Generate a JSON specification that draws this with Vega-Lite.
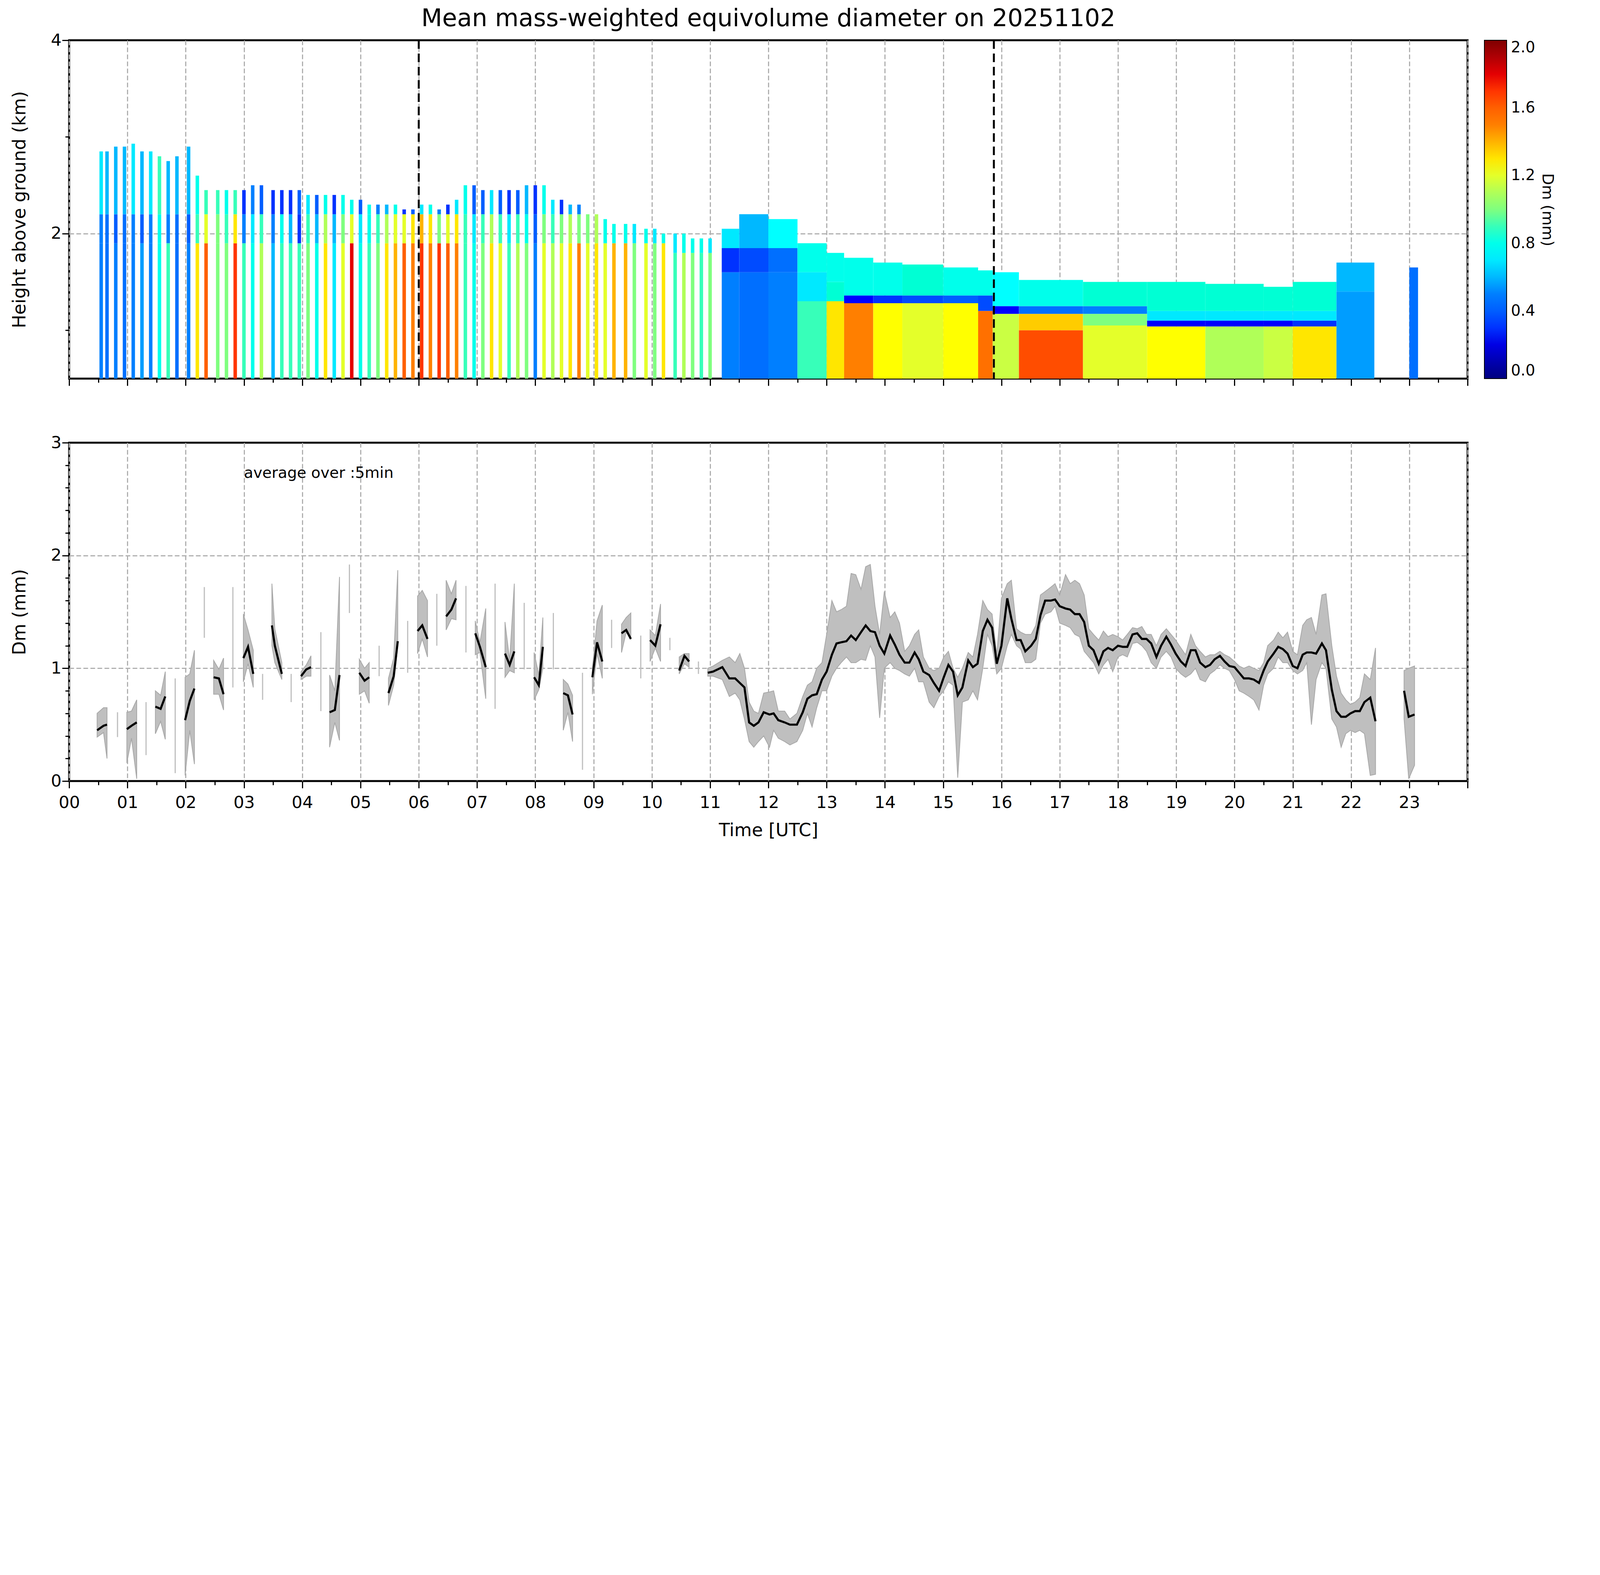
{
  "$schema": "https://vega.github.io/schema/vega-lite/v6.json",
  "padding": {"left": 25, "top": 16, "right": 11, "bottom": 11},
  "background": "white",
  "title": {"text": "Mean mass-weighted equivolume diameter on 20251102", "fontSize": 62, "font": "DejaVu Sans", "fontWeight": "normal", "anchor": "middle", "frame": "group", "offset": 0, "color": "black"},
  "config": {
    "font": "DejaVu Sans",
    "view": {"stroke": "black", "strokeWidth": 5},
    "axis": {"domain": false, "tickColor": "black", "tickWidth": 3, "labelFont": "DejaVu Sans", "labelFontSize": 43, "labelColor": "black", "titleFont": "DejaVu Sans", "titleFontSize": 46, "titleFontWeight": "normal", "titleColor": "black", "gridColor": "#b0b0b0", "gridDash": [12, 6], "gridWidth": 3, "zindex": 1},
    "legend": {"labelFont": "DejaVu Sans", "titleFont": "DejaVu Sans"}
  },
  "datasets": {
    "heat": [
      {"a":0.52,"b":0.58,"y0":0.5,"y1":1.9,"v":0.5},{"a":0.52,"b":0.58,"y0":1.9,"y1":2.2,"v":0.5},{"a":0.52,"b":0.58,"y0":2.2,"y1":2.85,"v":0.7},
      {"a":0.62,"b":0.68,"y0":0.5,"y1":1.9,"v":0.45},{"a":0.62,"b":0.68,"y0":1.9,"y1":2.2,"v":0.45},{"a":0.62,"b":0.68,"y0":2.2,"y1":2.85,"v":0.6},
      {"a":0.77,"b":0.83,"y0":0.5,"y1":1.9,"v":0.5},{"a":0.77,"b":0.83,"y0":1.9,"y1":2.2,"v":0.4},{"a":0.77,"b":0.83,"y0":2.2,"y1":2.9,"v":0.6},
      {"a":0.92,"b":0.98,"y0":0.5,"y1":1.9,"v":0.45},{"a":0.92,"b":0.98,"y0":1.9,"y1":2.2,"v":0.45},{"a":0.92,"b":0.98,"y0":2.2,"y1":2.9,"v":0.6},
      {"a":1.07,"b":1.13,"y0":0.5,"y1":1.9,"v":0.5},{"a":1.07,"b":1.13,"y0":1.9,"y1":2.2,"v":0.5},{"a":1.07,"b":1.13,"y0":2.2,"y1":2.93,"v":0.7},
      {"a":1.22,"b":1.28,"y0":0.5,"y1":1.9,"v":0.55},{"a":1.22,"b":1.28,"y0":1.9,"y1":2.2,"v":0.4},{"a":1.22,"b":1.28,"y0":2.2,"y1":2.85,"v":0.6},
      {"a":1.37,"b":1.43,"y0":0.5,"y1":1.9,"v":0.5},{"a":1.37,"b":1.43,"y0":1.9,"y1":2.2,"v":0.5},{"a":1.37,"b":1.43,"y0":2.2,"y1":2.85,"v":0.7},
      {"a":1.52,"b":1.58,"y0":0.5,"y1":1.9,"v":0.8},{"a":1.52,"b":1.58,"y0":1.9,"y1":2.2,"v":0.8},{"a":1.52,"b":1.58,"y0":2.2,"y1":2.8,"v":0.9},
      {"a":1.67,"b":1.73,"y0":0.5,"y1":1.9,"v":0.9},{"a":1.67,"b":1.73,"y0":1.9,"y1":2.2,"v":0.5},{"a":1.67,"b":1.73,"y0":2.2,"y1":2.75,"v":0.6},
      {"a":1.82,"b":1.88,"y0":0.5,"y1":1.9,"v":0.45},{"a":1.82,"b":1.88,"y0":1.9,"y1":2.2,"v":0.45},{"a":1.82,"b":1.88,"y0":2.2,"y1":2.8,"v":0.6},
      {"a":2.02,"b":2.08,"y0":0.5,"y1":1.9,"v":0.5},{"a":2.02,"b":2.08,"y0":1.9,"y1":2.2,"v":0.4},{"a":2.02,"b":2.08,"y0":2.2,"y1":2.9,"v":0.6},
      {"a":2.17,"b":2.23,"y0":0.5,"y1":1.9,"v":1.3},{"a":2.17,"b":2.23,"y0":1.9,"y1":2.2,"v":0.9},{"a":2.17,"b":2.23,"y0":2.2,"y1":2.6,"v":0.8},
      {"a":2.32,"b":2.38,"y0":0.5,"y1":1.9,"v":1.6},{"a":2.32,"b":2.38,"y0":1.9,"y1":2.2,"v":1.2},{"a":2.32,"b":2.38,"y0":2.2,"y1":2.45,"v":0.9},
      {"a":2.52,"b":2.58,"y0":0.5,"y1":1.9,"v":1.0},{"a":2.52,"b":2.58,"y0":1.9,"y1":2.2,"v":1.0},{"a":2.52,"b":2.58,"y0":2.2,"y1":2.45,"v":0.9},
      {"a":2.67,"b":2.73,"y0":0.5,"y1":1.9,"v":1.0},{"a":2.67,"b":2.73,"y0":1.9,"y1":2.2,"v":0.9},{"a":2.67,"b":2.73,"y0":2.2,"y1":2.45,"v":0.8},
      {"a":2.82,"b":2.88,"y0":0.5,"y1":1.9,"v":1.7},{"a":2.82,"b":2.88,"y0":1.9,"y1":2.2,"v":1.3},{"a":2.82,"b":2.88,"y0":2.2,"y1":2.45,"v":0.9},
      {"a":2.97,"b":3.03,"y0":0.5,"y1":1.9,"v":0.9},{"a":2.97,"b":3.03,"y0":1.9,"y1":2.2,"v":0.5},{"a":2.97,"b":3.03,"y0":2.2,"y1":2.45,"v":0.3},
      {"a":3.12,"b":3.18,"y0":0.5,"y1":1.9,"v":0.8},{"a":3.12,"b":3.18,"y0":1.9,"y1":2.2,"v":0.7},{"a":3.12,"b":3.18,"y0":2.2,"y1":2.5,"v":0.5},
      {"a":3.27,"b":3.33,"y0":0.5,"y1":1.9,"v":1.1},{"a":3.27,"b":3.33,"y0":1.9,"y1":2.2,"v":0.9},{"a":3.27,"b":3.33,"y0":2.2,"y1":2.5,"v":0.4},
      {"a":3.47,"b":3.53,"y0":0.5,"y1":1.9,"v":0.6},{"a":3.47,"b":3.53,"y0":1.9,"y1":2.2,"v":0.5},{"a":3.47,"b":3.53,"y0":2.2,"y1":2.45,"v":0.3},
      {"a":3.62,"b":3.68,"y0":0.5,"y1":1.9,"v":0.9},{"a":3.62,"b":3.68,"y0":1.9,"y1":2.2,"v":0.8},{"a":3.62,"b":3.68,"y0":2.2,"y1":2.45,"v":0.3},
      {"a":3.77,"b":3.83,"y0":0.5,"y1":1.9,"v":0.9},{"a":3.77,"b":3.83,"y0":1.9,"y1":2.2,"v":0.6},{"a":3.77,"b":3.83,"y0":2.2,"y1":2.45,"v":0.3},
      {"a":3.92,"b":3.98,"y0":0.5,"y1":1.9,"v":0.9},{"a":3.92,"b":3.98,"y0":1.9,"y1":2.2,"v":0.3},{"a":3.92,"b":3.98,"y0":2.2,"y1":2.45,"v":0.4},
      {"a":4.07,"b":4.13,"y0":0.5,"y1":1.9,"v":1.0},{"a":4.07,"b":4.13,"y0":1.9,"y1":2.2,"v":0.9},{"a":4.07,"b":4.13,"y0":2.2,"y1":2.4,"v":0.7},
      {"a":4.22,"b":4.28,"y0":0.5,"y1":1.9,"v":0.8},{"a":4.22,"b":4.28,"y0":1.9,"y1":2.2,"v":0.6},{"a":4.22,"b":4.28,"y0":2.2,"y1":2.4,"v":0.4},
      {"a":4.37,"b":4.43,"y0":0.5,"y1":1.9,"v":1.3},{"a":4.37,"b":4.43,"y0":1.9,"y1":2.2,"v":1.1},{"a":4.37,"b":4.43,"y0":2.2,"y1":2.4,"v":0.8},
      {"a":4.52,"b":4.58,"y0":0.5,"y1":1.9,"v":0.7},{"a":4.52,"b":4.58,"y0":1.9,"y1":2.2,"v":0.6},{"a":4.52,"b":4.58,"y0":2.2,"y1":2.4,"v":0.3},
      {"a":4.67,"b":4.73,"y0":0.5,"y1":1.9,"v":1.2},{"a":4.67,"b":4.73,"y0":1.9,"y1":2.2,"v":1.0},{"a":4.67,"b":4.73,"y0":2.2,"y1":2.4,"v":0.8},
      {"a":4.82,"b":4.88,"y0":0.5,"y1":1.9,"v":1.8},{"a":4.82,"b":4.88,"y0":1.9,"y1":2.2,"v":1.2},{"a":4.82,"b":4.88,"y0":2.2,"y1":2.35,"v":0.8},
      {"a":4.97,"b":5.03,"y0":0.5,"y1":1.9,"v":0.8},{"a":4.97,"b":5.03,"y0":1.9,"y1":2.2,"v":0.7},{"a":4.97,"b":5.03,"y0":2.2,"y1":2.35,"v":0.4},
      {"a":5.12,"b":5.18,"y0":0.5,"y1":1.9,"v":0.9},{"a":5.12,"b":5.18,"y0":1.9,"y1":2.2,"v":0.8},{"a":5.12,"b":5.18,"y0":2.2,"y1":2.3,"v":0.8},
      {"a":5.27,"b":5.33,"y0":0.5,"y1":1.9,"v":1.0},{"a":5.27,"b":5.33,"y0":1.9,"y1":2.2,"v":0.9},{"a":5.27,"b":5.33,"y0":2.2,"y1":2.3,"v":0.5},
      {"a":5.42,"b":5.48,"y0":0.5,"y1":1.9,"v":1.3},{"a":5.42,"b":5.48,"y0":1.9,"y1":2.2,"v":1.1},{"a":5.42,"b":5.48,"y0":2.2,"y1":2.3,"v":0.6},
      {"a":5.57,"b":5.63,"y0":0.5,"y1":1.9,"v":1.4},{"a":5.57,"b":5.63,"y0":1.9,"y1":2.2,"v":1.2},{"a":5.57,"b":5.63,"y0":2.2,"y1":2.3,"v":0.8},
      {"a":5.72,"b":5.78,"y0":0.5,"y1":1.9,"v":1.6},{"a":5.72,"b":5.78,"y0":1.9,"y1":2.2,"v":1.2},{"a":5.72,"b":5.78,"y0":2.2,"y1":2.25,"v":0.3},
      {"a":5.87,"b":5.93,"y0":0.5,"y1":1.9,"v":1.5},{"a":5.87,"b":5.93,"y0":1.9,"y1":2.2,"v":1.3},{"a":5.87,"b":5.93,"y0":2.2,"y1":2.25,"v":0.4},
      {"a":6.02,"b":6.08,"y0":0.5,"y1":1.9,"v":1.7},{"a":6.02,"b":6.08,"y0":1.9,"y1":2.2,"v":1.4},{"a":6.02,"b":6.08,"y0":2.2,"y1":2.3,"v":0.7},
      {"a":6.17,"b":6.23,"y0":0.5,"y1":1.9,"v":1.5},{"a":6.17,"b":6.23,"y0":1.9,"y1":2.2,"v":1.3},{"a":6.17,"b":6.23,"y0":2.2,"y1":2.3,"v":0.8},
      {"a":6.32,"b":6.38,"y0":0.5,"y1":1.9,"v":1.7},{"a":6.32,"b":6.38,"y0":1.9,"y1":2.2,"v":1.0},{"a":6.32,"b":6.38,"y0":2.2,"y1":2.25,"v":0.5},
      {"a":6.47,"b":6.53,"y0":0.5,"y1":1.9,"v":1.6},{"a":6.47,"b":6.53,"y0":1.9,"y1":2.2,"v":1.2},{"a":6.47,"b":6.53,"y0":2.2,"y1":2.3,"v":0.3},
      {"a":6.62,"b":6.68,"y0":0.5,"y1":1.9,"v":1.5},{"a":6.62,"b":6.68,"y0":1.9,"y1":2.2,"v":1.3},{"a":6.62,"b":6.68,"y0":2.2,"y1":2.35,"v":0.7},
      {"a":6.77,"b":6.83,"y0":0.5,"y1":1.9,"v":0.9},{"a":6.77,"b":6.83,"y0":1.9,"y1":2.2,"v":0.9},{"a":6.77,"b":6.83,"y0":2.2,"y1":2.5,"v":0.8},
      {"a":6.92,"b":6.98,"y0":0.5,"y1":1.9,"v":0.8},{"a":6.92,"b":6.98,"y0":1.9,"y1":2.2,"v":0.7},{"a":6.92,"b":6.98,"y0":2.2,"y1":2.5,"v":0.4},
      {"a":7.07,"b":7.13,"y0":0.5,"y1":1.9,"v":1.0},{"a":7.07,"b":7.13,"y0":1.9,"y1":2.2,"v":0.9},{"a":7.07,"b":7.13,"y0":2.2,"y1":2.45,"v":0.4},
      {"a":7.22,"b":7.28,"y0":0.5,"y1":1.9,"v":1.3},{"a":7.22,"b":7.28,"y0":1.9,"y1":2.2,"v":1.1},{"a":7.22,"b":7.28,"y0":2.2,"y1":2.45,"v":0.7},
      {"a":7.37,"b":7.43,"y0":0.5,"y1":1.9,"v":1.2},{"a":7.37,"b":7.43,"y0":1.9,"y1":2.2,"v":0.9},{"a":7.37,"b":7.43,"y0":2.2,"y1":2.45,"v":0.4},
      {"a":7.52,"b":7.58,"y0":0.5,"y1":1.9,"v":0.9},{"a":7.52,"b":7.58,"y0":1.9,"y1":2.2,"v":0.7},{"a":7.52,"b":7.58,"y0":2.2,"y1":2.45,"v":0.3},
      {"a":7.67,"b":7.73,"y0":0.5,"y1":1.9,"v":1.1},{"a":7.67,"b":7.73,"y0":1.9,"y1":2.2,"v":0.9},{"a":7.67,"b":7.73,"y0":2.2,"y1":2.45,"v":0.4},
      {"a":7.82,"b":7.88,"y0":0.5,"y1":1.9,"v":1.0},{"a":7.82,"b":7.88,"y0":1.9,"y1":2.2,"v":0.8},{"a":7.82,"b":7.88,"y0":2.2,"y1":2.5,"v":0.6},
      {"a":7.97,"b":8.03,"y0":0.5,"y1":1.9,"v":0.5},{"a":7.97,"b":8.03,"y0":1.9,"y1":2.2,"v":0.4},{"a":7.97,"b":8.03,"y0":2.2,"y1":2.5,"v":0.3},
      {"a":8.12,"b":8.18,"y0":0.5,"y1":1.9,"v":1.2},{"a":8.12,"b":8.18,"y0":1.9,"y1":2.2,"v":1.0},{"a":8.12,"b":8.18,"y0":2.2,"y1":2.5,"v":0.8},
      {"a":8.27,"b":8.33,"y0":0.5,"y1":1.9,"v":1.1},{"a":8.27,"b":8.33,"y0":1.9,"y1":2.2,"v":0.9},{"a":8.27,"b":8.33,"y0":2.2,"y1":2.35,"v":0.7},
      {"a":8.42,"b":8.48,"y0":0.5,"y1":1.9,"v":1.2},{"a":8.42,"b":8.48,"y0":1.9,"y1":2.2,"v":1.0},{"a":8.42,"b":8.48,"y0":2.2,"y1":2.35,"v":0.3},
      {"a":8.57,"b":8.63,"y0":0.5,"y1":1.9,"v":1.3},{"a":8.57,"b":8.63,"y0":1.9,"y1":2.2,"v":1.1},{"a":8.57,"b":8.63,"y0":2.2,"y1":2.3,"v":0.6},
      {"a":8.72,"b":8.78,"y0":0.5,"y1":1.9,"v":1.5},{"a":8.72,"b":8.78,"y0":1.9,"y1":2.2,"v":1.0},{"a":8.72,"b":8.78,"y0":2.2,"y1":2.3,"v":0.5},
      {"a":8.87,"b":8.93,"y0":0.5,"y1":1.9,"v":1.2},{"a":8.87,"b":8.93,"y0":1.9,"y1":2.2,"v":1.0},
      {"a":9.02,"b":9.08,"y0":0.5,"y1":1.9,"v":1.3},{"a":9.02,"b":9.08,"y0":1.9,"y1":2.2,"v":1.1},
      {"a":9.17,"b":9.23,"y0":0.5,"y1":1.9,"v":1.2},{"a":9.17,"b":9.23,"y0":1.9,"y1":2.15,"v":0.8},
      {"a":9.32,"b":9.38,"y0":0.5,"y1":1.9,"v":1.4},{"a":9.32,"b":9.38,"y0":1.9,"y1":2.1,"v":0.8},
      {"a":9.52,"b":9.58,"y0":0.5,"y1":1.9,"v":1.4},{"a":9.52,"b":9.58,"y0":1.9,"y1":2.1,"v":0.8},
      {"a":9.67,"b":9.73,"y0":0.5,"y1":1.9,"v":1.0},{"a":9.67,"b":9.73,"y0":1.9,"y1":2.1,"v":0.7},
      {"a":9.87,"b":9.93,"y0":0.5,"y1":1.9,"v":1.2},{"a":9.87,"b":9.93,"y0":1.9,"y1":2.05,"v":0.8},
      {"a":10.02,"b":10.08,"y0":0.5,"y1":1.9,"v":1.0},{"a":10.02,"b":10.08,"y0":1.9,"y1":2.05,"v":0.7},
      {"a":10.17,"b":10.23,"y0":0.5,"y1":1.9,"v":1.3},{"a":10.17,"b":10.23,"y0":1.9,"y1":2.0,"v":0.8},
      {"a":10.37,"b":10.43,"y0":0.5,"y1":1.8,"v":0.9},{"a":10.37,"b":10.43,"y0":1.8,"y1":2.0,"v":0.7},
      {"a":10.52,"b":10.58,"y0":0.5,"y1":1.8,"v":1.1},{"a":10.52,"b":10.58,"y0":1.8,"y1":2.0,"v":0.8},
      {"a":10.67,"b":10.73,"y0":0.5,"y1":1.8,"v":1.0},{"a":10.67,"b":10.73,"y0":1.8,"y1":1.95,"v":0.8},
      {"a":10.82,"b":10.88,"y0":0.5,"y1":1.8,"v":0.9},{"a":10.82,"b":10.88,"y0":1.8,"y1":1.95,"v":0.8},
      {"a":10.97,"b":11.03,"y0":0.5,"y1":1.8,"v":1.0},{"a":10.97,"b":11.03,"y0":1.8,"y1":1.95,"v":0.7},
      {"a":11.2,"b":11.5,"y0":0.5,"y1":1.6,"v":0.5},{"a":11.2,"b":11.5,"y0":1.6,"y1":1.85,"v":0.3},{"a":11.2,"b":11.5,"y0":1.85,"y1":2.05,"v":0.7},
      {"a":11.5,"b":12.0,"y0":0.5,"y1":1.6,"v":0.45},{"a":11.5,"b":12.0,"y0":1.6,"y1":1.85,"v":0.35},{"a":11.5,"b":12.0,"y0":1.85,"y1":2.2,"v":0.6},
      {"a":12.0,"b":12.5,"y0":0.5,"y1":1.6,"v":0.5},{"a":12.0,"b":12.5,"y0":1.6,"y1":1.85,"v":0.45},{"a":12.0,"b":12.5,"y0":1.85,"y1":2.15,"v":0.75},
      {"a":12.5,"b":13.0,"y0":0.5,"y1":1.3,"v":0.9},{"a":12.5,"b":13.0,"y0":1.3,"y1":1.6,"v":0.7},{"a":12.5,"b":13.0,"y0":1.6,"y1":1.9,"v":0.8},
      {"a":13.0,"b":13.3,"y0":0.5,"y1":1.3,"v":1.3},{"a":13.0,"b":13.3,"y0":1.3,"y1":1.5,"v":0.85},{"a":13.0,"b":13.3,"y0":1.5,"y1":1.8,"v":0.8},
      {"a":13.3,"b":13.8,"y0":0.5,"y1":1.28,"v":1.5},{"a":13.3,"b":13.8,"y0":1.28,"y1":1.36,"v":0.25},{"a":13.3,"b":13.8,"y0":1.36,"y1":1.75,"v":0.8},
      {"a":13.8,"b":14.3,"y0":0.5,"y1":1.28,"v":1.25},{"a":13.8,"b":14.3,"y0":1.28,"y1":1.36,"v":0.3},{"a":13.8,"b":14.3,"y0":1.36,"y1":1.7,"v":0.8},
      {"a":14.3,"b":15.0,"y0":0.5,"y1":1.28,"v":1.2},{"a":14.3,"b":15.0,"y0":1.28,"y1":1.36,"v":0.35},{"a":14.3,"b":15.0,"y0":1.36,"y1":1.68,"v":0.85},
      {"a":15.0,"b":15.6,"y0":0.5,"y1":1.28,"v":1.25},{"a":15.0,"b":15.6,"y0":1.28,"y1":1.36,"v":0.4},{"a":15.0,"b":15.6,"y0":1.36,"y1":1.65,"v":0.8},
      {"a":15.6,"b":15.85,"y0":0.5,"y1":1.2,"v":1.55},{"a":15.6,"b":15.85,"y0":1.2,"y1":1.36,"v":0.35},{"a":15.6,"b":15.85,"y0":1.36,"y1":1.62,"v":0.8},
      {"a":15.85,"b":16.3,"y0":0.5,"y1":1.17,"v":1.15},{"a":15.85,"b":16.3,"y0":1.17,"y1":1.25,"v":0.25},{"a":15.85,"b":16.3,"y0":1.25,"y1":1.6,"v":0.75},
      {"a":16.3,"b":17.4,"y0":0.5,"y1":1.0,"v":1.65},{"a":16.3,"b":17.4,"y0":1.0,"y1":1.17,"v":1.35},{"a":16.3,"b":17.4,"y0":1.17,"y1":1.25,"v":0.45},{"a":16.3,"b":17.4,"y0":1.25,"y1":1.52,"v":0.8},
      {"a":17.4,"b":18.5,"y0":0.5,"y1":1.05,"v":1.2},{"a":17.4,"b":18.5,"y0":1.05,"y1":1.17,"v":1.0},{"a":17.4,"b":18.5,"y0":1.17,"y1":1.25,"v":0.5},{"a":17.4,"b":18.5,"y0":1.25,"y1":1.5,"v":0.85},
      {"a":18.5,"b":19.5,"y0":0.5,"y1":1.04,"v":1.25},{"a":18.5,"b":19.5,"y0":1.04,"y1":1.1,"v":0.25},{"a":18.5,"b":19.5,"y0":1.1,"y1":1.2,"v":0.7},{"a":18.5,"b":19.5,"y0":1.2,"y1":1.5,"v":0.85},
      {"a":19.5,"b":20.5,"y0":0.5,"y1":1.04,"v":1.1},{"a":19.5,"b":20.5,"y0":1.04,"y1":1.1,"v":0.25},{"a":19.5,"b":20.5,"y0":1.1,"y1":1.2,"v":0.7},{"a":19.5,"b":20.5,"y0":1.2,"y1":1.48,"v":0.85},
      {"a":20.5,"b":21.0,"y0":0.5,"y1":1.04,"v":1.15},{"a":20.5,"b":21.0,"y0":1.04,"y1":1.1,"v":0.25},{"a":20.5,"b":21.0,"y0":1.1,"y1":1.2,"v":0.7},{"a":20.5,"b":21.0,"y0":1.2,"y1":1.45,"v":0.85},
      {"a":21.0,"b":21.75,"y0":0.5,"y1":1.04,"v":1.3},{"a":21.0,"b":21.75,"y0":1.04,"y1":1.1,"v":0.3},{"a":21.0,"b":21.75,"y0":1.1,"y1":1.2,"v":0.7},{"a":21.0,"b":21.75,"y0":1.2,"y1":1.5,"v":0.85},
      {"a":21.75,"b":22.4,"y0":0.5,"y1":1.4,"v":0.55},{"a":21.75,"b":22.4,"y0":1.4,"y1":1.7,"v":0.6},
      {"a":23.0,"b":23.15,"y0":0.5,"y1":1.65,"v":0.45}
    ],
    "line": [
      {"t":0.48,"d":0.45,"lo":0.39,"hi":0.6,"s":1},{"t":0.59,"d":0.49,"lo":0.43,"hi":0.65,"s":1},{"t":0.65,"d":0.5,"lo":0.2,"hi":0.65,"s":1},
      {"t":0.99,"d":0.46,"lo":0.16,"hi":0.61,"s":2},{"t":1.07,"d":0.49,"lo":0.38,"hi":0.62,"s":2},{"t":1.16,"d":0.52,"lo":0.02,"hi":0.72,"s":2},
      {"t":1.48,"d":0.66,"lo":0.42,"hi":0.8,"s":3},{"t":1.57,"d":0.64,"lo":0.53,"hi":0.76,"s":3},{"t":1.65,"d":0.75,"lo":0.37,"hi":0.97,"s":3},
      {"t":1.99,"d":0.54,"lo":0.05,"hi":0.92,"s":4},{"t":2.07,"d":0.71,"lo":0.45,"hi":0.95,"s":4},{"t":2.15,"d":0.82,"lo":0.15,"hi":1.16,"s":4},
      {"t":2.48,"d":0.92,"lo":0.77,"hi":1.07,"s":5},{"t":2.57,"d":0.91,"lo":0.77,"hi":0.99,"s":5},{"t":2.65,"d":0.77,"lo":0.63,"hi":1.09,"s":5},
      {"t":2.99,"d":1.09,"lo":0.88,"hi":1.48,"s":6},{"t":3.07,"d":1.19,"lo":1.04,"hi":1.34,"s":6},{"t":3.16,"d":0.95,"lo":0.83,"hi":1.16,"s":6},
      {"t":3.48,"d":1.38,"lo":1.2,"hi":1.75,"s":7},{"t":3.53,"d":1.2,"lo":1.05,"hi":1.35,"s":7},{"t":3.65,"d":0.95,"lo":0.9,"hi":1.05,"s":7},
      {"t":3.98,"d":0.93,"lo":0.9,"hi":0.97,"s":8},{"t":4.07,"d":0.99,"lo":0.93,"hi":1.03,"s":8},{"t":4.15,"d":1.01,"lo":0.93,"hi":1.11,"s":8},
      {"t":4.47,"d":0.61,"lo":0.3,"hi":0.94,"s":9},{"t":4.56,"d":0.63,"lo":0.52,"hi":0.8,"s":9},{"t":4.64,"d":0.94,"lo":0.36,"hi":1.81,"s":9},
      {"t":4.98,"d":0.96,"lo":0.77,"hi":1.08,"s":10},{"t":5.07,"d":0.89,"lo":0.8,"hi":1.0,"s":10},{"t":5.15,"d":0.92,"lo":0.69,"hi":1.05,"s":10},
      {"t":5.48,"d":0.78,"lo":0.67,"hi":0.91,"s":11},{"t":5.57,"d":0.93,"lo":0.85,"hi":1.09,"s":11},{"t":5.64,"d":1.24,"lo":1.2,"hi":1.87,"s":11},
      {"t":5.98,"d":1.33,"lo":1.13,"hi":1.64,"s":12},{"t":6.06,"d":1.38,"lo":1.26,"hi":1.69,"s":12},{"t":6.15,"d":1.26,"lo":1.1,"hi":1.6,"s":12},
      {"t":6.47,"d":1.46,"lo":1.34,"hi":1.78,"s":13},{"t":6.56,"d":1.52,"lo":1.44,"hi":1.66,"s":13},{"t":6.64,"d":1.62,"lo":1.43,"hi":1.78,"s":13},
      {"t":6.97,"d":1.31,"lo":1.12,"hi":1.42,"s":14},{"t":7.05,"d":1.19,"lo":1.14,"hi":1.23,"s":14},{"t":7.15,"d":1.01,"lo":0.73,"hi":1.53,"s":14},
      {"t":7.48,"d":1.13,"lo":0.92,"hi":1.41,"s":15},{"t":7.56,"d":1.03,"lo":0.98,"hi":1.07,"s":15},{"t":7.64,"d":1.15,"lo":0.96,"hi":1.75,"s":15},
      {"t":7.98,"d":0.92,"lo":0.72,"hi":1.14,"s":16},{"t":8.06,"d":0.85,"lo":0.81,"hi":0.94,"s":16},{"t":8.13,"d":1.19,"lo":1.0,"hi":1.45,"s":16},
      {"t":8.48,"d":0.78,"lo":0.45,"hi":0.9,"s":17},{"t":8.56,"d":0.76,"lo":0.61,"hi":0.86,"s":17},{"t":8.64,"d":0.59,"lo":0.35,"hi":0.76,"s":17},
      {"t":8.98,"d":0.92,"lo":0.77,"hi":1.0,"s":18},{"t":9.06,"d":1.23,"lo":1.13,"hi":1.42,"s":18},{"t":9.15,"d":1.06,"lo":0.91,"hi":1.56,"s":18},
      {"t":9.48,"d":1.31,"lo":1.14,"hi":1.39,"s":19},{"t":9.56,"d":1.34,"lo":1.32,"hi":1.45,"s":19},{"t":9.64,"d":1.26,"lo":1.26,"hi":1.49,"s":19},
      {"t":9.97,"d":1.25,"lo":1.06,"hi":1.34,"s":20},{"t":10.06,"d":1.2,"lo":1.18,"hi":1.29,"s":20},{"t":10.15,"d":1.39,"lo":1.06,"hi":1.57,"s":20},
      {"t":10.47,"d":0.98,"lo":0.95,"hi":1.1,"s":21},{"t":10.56,"d":1.11,"lo":1.04,"hi":1.13,"s":21},{"t":10.64,"d":1.06,"lo":1.01,"hi":1.13,"s":21},
      {"t":10.96,"d":0.96,"lo":0.93,"hi":1.0,"s":22},{"t":11.05,"d":0.97,"lo":0.93,"hi":1.02,"s":22},{"t":11.21,"d":1.01,"lo":0.9,"hi":1.07,"s":22},
      {"t":11.33,"d":0.91,"lo":0.75,"hi":1.1,"s":22},{"t":11.43,"d":0.91,"lo":0.78,"hi":1.05,"s":22},{"t":11.51,"d":0.87,"lo":0.72,"hi":1.13,"s":22},
      {"t":11.59,"d":0.83,"lo":0.55,"hi":1.0,"s":22},{"t":11.67,"d":0.52,"lo":0.35,"hi":0.7,"s":22},{"t":11.75,"d":0.49,"lo":0.3,"hi":0.62,"s":22},
      {"t":11.83,"d":0.52,"lo":0.35,"hi":0.6,"s":22},{"t":11.92,"d":0.61,"lo":0.4,"hi":0.78,"s":22},{"t":12.02,"d":0.59,"lo":0.3,"hi":0.79,"s":22},
      {"t":12.09,"d":0.6,"lo":0.45,"hi":0.8,"s":22},{"t":12.17,"d":0.54,"lo":0.38,"hi":0.62,"s":22},{"t":12.28,"d":0.52,"lo":0.35,"hi":0.62,"s":22},
      {"t":12.37,"d":0.5,"lo":0.32,"hi":0.55,"s":22},{"t":12.49,"d":0.5,"lo":0.35,"hi":0.6,"s":22},{"t":12.59,"d":0.61,"lo":0.45,"hi":0.75,"s":22},
      {"t":12.67,"d":0.73,"lo":0.6,"hi":0.85,"s":22},{"t":12.75,"d":0.76,"lo":0.48,"hi":0.88,"s":22},{"t":12.83,"d":0.77,"lo":0.65,"hi":1.0,"s":22},
      {"t":12.92,"d":0.9,"lo":0.8,"hi":1.05,"s":22},{"t":13.0,"d":0.97,"lo":0.8,"hi":1.3,"s":22},{"t":13.09,"d":1.12,"lo":0.93,"hi":1.6,"s":22},
      {"t":13.17,"d":1.22,"lo":1.0,"hi":1.5,"s":22},{"t":13.25,"d":1.23,"lo":1.05,"hi":1.52,"s":22},{"t":13.34,"d":1.24,"lo":1.1,"hi":1.55,"s":22},
      {"t":13.42,"d":1.29,"lo":1.05,"hi":1.84,"s":22},{"t":13.5,"d":1.25,"lo":1.05,"hi":1.83,"s":22},{"t":13.59,"d":1.32,"lo":1.08,"hi":1.7,"s":22},
      {"t":13.67,"d":1.38,"lo":1.07,"hi":1.9,"s":22},{"t":13.75,"d":1.33,"lo":1.2,"hi":1.92,"s":22},{"t":13.83,"d":1.32,"lo":1.1,"hi":1.55,"s":22},
      {"t":13.91,"d":1.2,"lo":0.56,"hi":1.3,"s":22},{"t":13.99,"d":1.13,"lo":1.0,"hi":1.68,"s":22},{"t":14.09,"d":1.29,"lo":1.05,"hi":1.45,"s":22},
      {"t":14.17,"d":1.21,"lo":1.0,"hi":1.5,"s":22},{"t":14.25,"d":1.12,"lo":0.98,"hi":1.4,"s":22},{"t":14.34,"d":1.05,"lo":0.95,"hi":1.15,"s":22},
      {"t":14.42,"d":1.05,"lo":0.93,"hi":1.2,"s":22},{"t":14.51,"d":1.14,"lo":1.0,"hi":1.3,"s":22},{"t":14.58,"d":1.08,"lo":0.88,"hi":1.34,"s":22},
      {"t":14.66,"d":0.97,"lo":0.88,"hi":1.1,"s":22},{"t":14.76,"d":0.94,"lo":0.7,"hi":1.0,"s":22},{"t":14.84,"d":0.87,"lo":0.65,"hi":0.98,"s":22},
      {"t":14.93,"d":0.8,"lo":0.75,"hi":1.0,"s":22},{"t":15.01,"d":0.92,"lo":0.8,"hi":1.1,"s":22},{"t":15.09,"d":1.03,"lo":0.88,"hi":1.15,"s":22},
      {"t":15.17,"d":0.97,"lo":0.85,"hi":1.0,"s":22},{"t":15.25,"d":0.76,"lo":0.03,"hi":0.92,"s":22},{"t":15.33,"d":0.83,"lo":0.7,"hi":1.0,"s":22},
      {"t":15.43,"d":1.07,"lo":0.72,"hi":1.14,"s":22},{"t":15.51,"d":1.01,"lo":0.8,"hi":1.1,"s":22},{"t":15.59,"d":1.04,"lo":0.72,"hi":1.3,"s":22},
      {"t":15.68,"d":1.33,"lo":1.0,"hi":1.6,"s":22},{"t":15.76,"d":1.43,"lo":1.3,"hi":1.52,"s":22},{"t":15.84,"d":1.36,"lo":1.2,"hi":1.48,"s":22},
      {"t":15.92,"d":1.04,"lo":0.95,"hi":1.12,"s":22},{"t":16.0,"d":1.2,"lo":1.0,"hi":1.62,"s":22},{"t":16.1,"d":1.62,"lo":1.2,"hi":1.75,"s":22},
      {"t":16.17,"d":1.44,"lo":1.3,"hi":1.78,"s":22},{"t":16.26,"d":1.25,"lo":1.2,"hi":1.35,"s":22},{"t":16.33,"d":1.25,"lo":1.17,"hi":1.32,"s":22},
      {"t":16.41,"d":1.15,"lo":1.05,"hi":1.3,"s":22},{"t":16.51,"d":1.2,"lo":1.05,"hi":1.3,"s":22},{"t":16.59,"d":1.26,"lo":1.08,"hi":1.38,"s":22},
      {"t":16.67,"d":1.47,"lo":1.4,"hi":1.65,"s":22},{"t":16.75,"d":1.6,"lo":1.48,"hi":1.68,"s":22},{"t":16.85,"d":1.6,"lo":1.5,"hi":1.72,"s":22},
      {"t":16.92,"d":1.61,"lo":1.55,"hi":1.75,"s":22},{"t":17.0,"d":1.55,"lo":1.4,"hi":1.65,"s":22},{"t":17.1,"d":1.53,"lo":1.38,"hi":1.83,"s":22},
      {"t":17.18,"d":1.52,"lo":1.36,"hi":1.75,"s":22},{"t":17.26,"d":1.48,"lo":1.3,"hi":1.78,"s":22},{"t":17.34,"d":1.48,"lo":1.28,"hi":1.75,"s":22},
      {"t":17.42,"d":1.41,"lo":1.15,"hi":1.65,"s":22},{"t":17.5,"d":1.2,"lo":1.1,"hi":1.35,"s":22},{"t":17.58,"d":1.16,"lo":1.05,"hi":1.3,"s":22},
      {"t":17.67,"d":1.04,"lo":0.95,"hi":1.25,"s":22},{"t":17.75,"d":1.15,"lo":1.03,"hi":1.33,"s":22},{"t":17.83,"d":1.18,"lo":1.08,"hi":1.28,"s":22},
      {"t":17.91,"d":1.16,"lo":0.97,"hi":1.3,"s":22},{"t":18.0,"d":1.2,"lo":1.1,"hi":1.28,"s":22},{"t":18.08,"d":1.19,"lo":1.12,"hi":1.25,"s":22},
      {"t":18.16,"d":1.19,"lo":1.1,"hi":1.3,"s":22},{"t":18.25,"d":1.3,"lo":1.22,"hi":1.36,"s":22},{"t":18.33,"d":1.31,"lo":1.23,"hi":1.35,"s":22},
      {"t":18.41,"d":1.26,"lo":1.2,"hi":1.37,"s":22},{"t":18.49,"d":1.26,"lo":1.15,"hi":1.3,"s":22},{"t":18.57,"d":1.22,"lo":1.05,"hi":1.3,"s":22},
      {"t":18.66,"d":1.1,"lo":1.0,"hi":1.2,"s":22},{"t":18.74,"d":1.2,"lo":1.1,"hi":1.3,"s":22},{"t":18.83,"d":1.28,"lo":1.15,"hi":1.35,"s":22},
      {"t":18.91,"d":1.21,"lo":1.1,"hi":1.3,"s":22},{"t":18.99,"d":1.13,"lo":1.0,"hi":1.25,"s":22},{"t":19.08,"d":1.06,"lo":0.95,"hi":1.18,"s":22},
      {"t":19.16,"d":1.02,"lo":0.92,"hi":1.12,"s":22},{"t":19.25,"d":1.16,"lo":0.95,"hi":1.3,"s":22},{"t":19.33,"d":1.16,"lo":1.0,"hi":1.2,"s":22},
      {"t":19.41,"d":1.05,"lo":0.9,"hi":1.15,"s":22},{"t":19.5,"d":1.01,"lo":0.88,"hi":1.1,"s":22},{"t":19.58,"d":1.03,"lo":0.95,"hi":1.12,"s":22},
      {"t":19.66,"d":1.08,"lo":0.98,"hi":1.12,"s":22},{"t":19.75,"d":1.11,"lo":1.03,"hi":1.15,"s":22},{"t":19.83,"d":1.06,"lo":1.0,"hi":1.12,"s":22},
      {"t":19.91,"d":1.02,"lo":0.98,"hi":1.1,"s":22},{"t":20.0,"d":1.01,"lo":0.9,"hi":1.06,"s":22},{"t":20.08,"d":0.96,"lo":0.8,"hi":1.02,"s":22},
      {"t":20.16,"d":0.91,"lo":0.78,"hi":1.0,"s":22},{"t":20.25,"d":0.91,"lo":0.75,"hi":1.02,"s":22},{"t":20.33,"d":0.9,"lo":0.72,"hi":1.0,"s":22},
      {"t":20.42,"d":0.87,"lo":0.63,"hi":0.98,"s":22},{"t":20.5,"d":0.98,"lo":0.85,"hi":1.05,"s":22},{"t":20.57,"d":1.06,"lo":0.95,"hi":1.2,"s":22},
      {"t":20.67,"d":1.13,"lo":1.0,"hi":1.25,"s":22},{"t":20.75,"d":1.19,"lo":1.1,"hi":1.32,"s":22},{"t":20.83,"d":1.17,"lo":1.05,"hi":1.27,"s":22},
      {"t":20.91,"d":1.13,"lo":1.05,"hi":1.32,"s":22},{"t":21.0,"d":1.02,"lo":0.98,"hi":1.15,"s":22},{"t":21.08,"d":1.0,"lo":0.95,"hi":1.12,"s":22},
      {"t":21.17,"d":1.12,"lo":0.98,"hi":1.38,"s":22},{"t":21.24,"d":1.14,"lo":1.05,"hi":1.43,"s":22},{"t":21.32,"d":1.14,"lo":0.5,"hi":1.45,"s":22},
      {"t":21.4,"d":1.13,"lo":0.9,"hi":1.3,"s":22},{"t":21.5,"d":1.22,"lo":1.05,"hi":1.65,"s":22},{"t":21.57,"d":1.16,"lo":1.0,"hi":1.66,"s":22},
      {"t":21.67,"d":0.81,"lo":0.55,"hi":1.2,"s":22},{"t":21.75,"d":0.62,"lo":0.48,"hi":0.93,"s":22},{"t":21.83,"d":0.57,"lo":0.3,"hi":0.78,"s":22},
      {"t":21.91,"d":0.57,"lo":0.42,"hi":0.72,"s":22},{"t":21.99,"d":0.6,"lo":0.45,"hi":0.68,"s":22},{"t":22.07,"d":0.62,"lo":0.43,"hi":0.7,"s":22},
      {"t":22.15,"d":0.62,"lo":0.45,"hi":0.74,"s":22},{"t":22.23,"d":0.7,"lo":0.42,"hi":0.95,"s":22},{"t":22.33,"d":0.74,"lo":0.05,"hi":0.9,"s":22},
      {"t":22.42,"d":0.53,"lo":0.06,"hi":1.18,"s":22},
      {"t":22.91,"d":0.8,"lo":0.55,"hi":0.98,"s":23},{"t":22.99,"d":0.57,"lo":0.02,"hi":1.0,"s":23},{"t":23.09,"d":0.59,"lo":0.14,"hi":1.02,"s":23}
    ],
    "spikes": [
      {"t":0.83,"lo":0.39,"hi":0.61},{"t":1.32,"lo":0.23,"hi":0.7},{"t":1.82,"lo":0.07,"hi":0.91},{"t":2.32,"lo":1.27,"hi":1.72},
      {"t":2.81,"lo":0.83,"hi":1.72},{"t":3.32,"lo":0.72,"hi":0.95},{"t":3.81,"lo":0.7,"hi":0.95},{"t":4.32,"lo":0.62,"hi":1.32},
      {"t":4.81,"lo":1.49,"hi":1.92},{"t":5.32,"lo":0.93,"hi":1.2},{"t":5.81,"lo":0.96,"hi":1.42},{"t":6.31,"lo":1.2,"hi":1.66},
      {"t":6.81,"lo":1.14,"hi":1.73},{"t":7.31,"lo":0.64,"hi":1.75},{"t":7.81,"lo":0.99,"hi":1.58},{"t":8.31,"lo":0.99,"hi":1.49},
      {"t":8.81,"lo":0.1,"hi":0.96},{"t":9.31,"lo":1.18,"hi":1.43},{"t":9.81,"lo":0.91,"hi":1.29},{"t":10.31,"lo":1.16,"hi":1.27},
      {"t":10.8,"lo":0.95,"hi":1.06}
    ]
  },
  "vconcat": [
    {
      "width": 3580,
      "height": 866,
      "layer": [
        {
          "data": {"name": "heat"},
          "mark": {"type": "rect", "clip": true},
          "encoding": {
            "x": {"field": "a", "type": "quantitative", "scale": {"domain": [0, 24], "nice": false, "zero": false},
              "axis": {"values": [0,0.25,0.5,0.75,1,1.25,1.5,1.75,2,2.25,2.5,2.75,3,3.25,3.5,3.75,4,4.25,4.5,4.75,5,5.25,5.5,5.75,6,6.25,6.5,6.75,7,7.25,7.5,7.75,8,8.25,8.5,8.75,9,9.25,9.5,9.75,10,10.25,10.5,10.75,11,11.25,11.5,11.75,12,12.25,12.5,12.75,13,13.25,13.5,13.75,14,14.25,14.5,14.75,15,15.25,15.5,15.75,16,16.25,16.5,16.75,17,17.25,17.5,17.75,18,18.25,18.5,18.75,19,19.25,19.5,19.75,20,20.25,20.5,20.75,21,21.25,21.5,21.75,22,22.25,22.5,22.75,23,23.25,23.5,23.75,24],
                "labels": false, "title": null,
                "tickSize": {"condition": {"test": "datum.value % 1 === 0", "value": 18}, "value": 10},
                "gridOpacity": {"condition": {"test": "datum.value % 1 === 0", "value": 1}, "value": 0}}},
            "x2": {"field": "b"},
            "y": {"field": "y0", "type": "quantitative", "scale": {"domain": [0.5, 4], "nice": false, "zero": false},
              "axis": {"values": [1, 2, 3, 4], "title": "Height above ground (km)", "titlePadding": 55,
                "labelExpr": "datum.value % 2 === 0 ? datum.label : ''",
                "tickSize": {"condition": {"test": "datum.value % 2 === 0", "value": 18}, "value": 10},
                "gridOpacity": {"condition": {"test": "datum.value === 2", "value": 1}, "value": 0}}},
            "y2": {"field": "y1"},
            "color": {"field": "v", "type": "quantitative", "title": "Dm (mm)",
              "scale": {"domain": [0, 0.25, 0.5, 0.75, 1, 1.25, 1.5, 1.75, 2], "range": ["#00007f", "#0000ff", "#007fff", "#00ffff", "#7fff7f", "#ffff00", "#ff7f00", "#ff0000", "#7f0000"], "clamp": true},
              "legend": {"orient": "right", "direction": "vertical", "gradientLength": 866, "gradientThickness": 57, "gradientStrokeColor": "black", "gradientStrokeWidth": 2,
                "values": [0, 0.4, 0.8, 1.2, 1.6, 2.0], "format": ".1f", "labelFontSize": 39, "labelColor": "black", "labelOffset": 11,
                "titleOrient": "right", "titleFontSize": 39, "titleFontWeight": "normal", "titleColor": "black", "titleAnchor": "middle", "titlePadding": 11, "titleLimit": 2000, "offset": 43, "padding": 0}}
          }
        },
        {
          "data": {"values": [{"t": 6.0}, {"t": 15.87}]},
          "mark": {"type": "rule", "color": "black", "strokeWidth": 5, "strokeDash": [22, 12]},
          "encoding": {"x": {"field": "t", "type": "quantitative"}}
        }
      ]
    },
    {
      "width": 3580,
      "height": 866,
      "layer": [
        {
          "data": {"name": "spikes"},
          "mark": {"type": "rule", "color": "#bfbfbf", "strokeWidth": 3},
          "encoding": {
            "x": {"field": "t", "type": "quantitative", "scale": {"domain": [0, 24], "nice": false, "zero": false},
              "axis": {"values": [0,0.25,0.5,0.75,1,1.25,1.5,1.75,2,2.25,2.5,2.75,3,3.25,3.5,3.75,4,4.25,4.5,4.75,5,5.25,5.5,5.75,6,6.25,6.5,6.75,7,7.25,7.5,7.75,8,8.25,8.5,8.75,9,9.25,9.5,9.75,10,10.25,10.5,10.75,11,11.25,11.5,11.75,12,12.25,12.5,12.75,13,13.25,13.5,13.75,14,14.25,14.5,14.75,15,15.25,15.5,15.75,16,16.25,16.5,16.75,17,17.25,17.5,17.75,18,18.25,18.5,18.75,19,19.25,19.5,19.75,20,20.25,20.5,20.75,21,21.25,21.5,21.75,22,22.25,22.5,22.75,23,23.25,23.5,23.75,24],
                "title": "Time [UTC]", "titlePadding": 27, "labelPadding": 16, "labelFlush": false,
                "labelExpr": "datum.value % 1 === 0 && datum.value < 24 ? (datum.value < 10 ? '0' : '') + datum.value : ''",
                "tickSize": {"condition": {"test": "datum.value % 1 === 0", "value": 18}, "value": 10},
                "gridOpacity": {"condition": {"test": "datum.value % 1 === 0", "value": 1}, "value": 0}}},
            "y": {"field": "lo", "type": "quantitative", "scale": {"domain": [0, 3], "nice": false},
              "axis": {"values": [0,0.2,0.4,0.6,0.8,1,1.2,1.4,1.6,1.8,2,2.2,2.4,2.6,2.8,3], "title": "Dm (mm)", "titlePadding": 55,
                "labelExpr": "datum.value % 1 === 0 ? '' + datum.value : ''",
                "tickSize": {"condition": {"test": "datum.value % 1 === 0", "value": 18}, "value": 10},
                "gridOpacity": {"condition": {"test": "datum.value === 1 || datum.value === 2", "value": 1}, "value": 0}}},
            "y2": {"field": "hi"}
          }
        },
        {
          "data": {"name": "line"},
          "mark": {"type": "area", "color": "#bfbfbf", "stroke": "#a8a8a8", "strokeWidth": 2},
          "encoding": {
            "x": {"field": "t", "type": "quantitative"},
            "y": {"field": "lo", "type": "quantitative"},
            "y2": {"field": "hi"},
            "detail": {"field": "s", "type": "nominal"}
          }
        },
        {
          "data": {"name": "line"},
          "mark": {"type": "line", "color": "black", "strokeWidth": 5.4},
          "encoding": {
            "x": {"field": "t", "type": "quantitative"},
            "y": {"field": "d", "type": "quantitative"},
            "detail": {"field": "s", "type": "nominal"}
          }
        },
        {
          "data": {"values": [{"t": 3.0, "d": 2.73, "txt": "average over :5min"}]},
          "mark": {"type": "text", "align": "left", "baseline": "middle", "fontSize": 39, "font": "DejaVu Sans", "color": "black"},
          "encoding": {
            "x": {"field": "t", "type": "quantitative"},
            "y": {"field": "d", "type": "quantitative"},
            "text": {"field": "txt"}
          }
        }
      ]
    }
  ],
  "spacing": 118,
  "resolve": {"scale": {"color": "independent"}}
}
